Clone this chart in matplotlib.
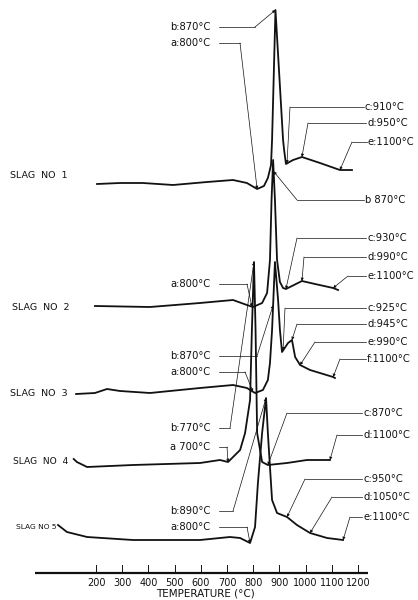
import numpy as np
import matplotlib
matplotlib.use("Agg")
import matplotlib.pyplot as plt

# =========================
# DONNÉES (courbes ATD)
# =========================

# temperature (°C) / signal (unités arbitraires, + = exothermique)
T1 = [204, 292, 379, 494, 624, 723, 776, 815, 841, 856, 868, 872, 885, 914, 918, 925, 952, 986, 1055, 1131, 1177]
S1 = [0, 1, 1, -1, 2, 4, 1, -5, -2, 6, 19, 44, 174, 44, 34, 20, 24, 27, 21, 14, 14]

T2 = [196, 406, 597, 723, 776, 799, 834, 853, 864, 870, 876, 883, 891, 902, 914, 925, 948, 986, 1036, 1105, 1124]
S2 = [1, 0, 4, 7, 2, 0, 4, 14, 47, 107, 147, 107, 47, 25, 19, 18, 21, 26, 23, 19, 17]

T3 = [124, 196, 242, 292, 406, 597, 723, 776, 807, 837, 856, 864, 872, 883, 895, 902, 910, 933, 948, 960, 979, 1017, 1105, 1112]
S3 = [-4, -3, 1, -1, -3, 2, 5, 2, -3, 0, 10, 27, 60, 128, 90, 60, 38, 47, 50, 33, 25, 20, 13, 12]

T4 = [115, 127, 166, 341, 597, 673, 704, 750, 769, 788, 795, 803, 809, 815, 834, 856, 929, 1005, 1093]
S4 = [4, 1, -4, -2, 0, 3, 1, 13, 30, 63, 133, 201, 133, 30, 1, -2, 0, 3, 3]

T5 = [55, 89, 166, 341, 597, 711, 750, 788, 807, 818, 834, 849, 856, 864, 872, 891, 929, 967, 1017, 1082, 1143]
S5 = [13, 6, 1, -2, -2, 1, 0, -5, 11, 55, 105, 140, 105, 71, 38, 25, 21, 13, 5, 0, -2]

COURBES = [(T1, S1), (T2, S2), (T3, S3), (T4, S4), (T5, S5)]
NOMS = ["SLAG  NO  1", "SLAG  NO  2", "SLAG  NO  3", "SLAG  NO  4", "SLAG NO 5"]

TICKS = [200, 300, 400, 500, 600, 700, 800, 900, 1000, 1100, 1200]
XLABEL = "TEMPERATURE (°C)"

# (courbe, temperature visée, texte)
ANNOT_GAUCHE = [
    (0, 885, "b:870°C"), (0, 815, "a:800°C"),
    (1, 795, "a:800°C"),
    (2, 876, "b:870°C"), (2, 799, "a:800°C"),
    (3, 803, "b:770°C"), (3, 704, "a 700°C"),
    (4, 849, "b:890°C"), (4, 788, "a:800°C"),
]
ANNOT_DROITE = [
    (0, 929, "c:910°C"), (0, 986, "d:950°C"), (0, 1131, "e:1100°C"),
    (1, 878, "b 870°C"),
    (1, 925, "c:930°C"), (1, 986, "d:990°C"), (1, 1105, "e:1100°C"),
    (2, 914, "c:925°C"), (2, 948, "d:945°C"), (2, 979, "e:990°C"), (2, 1105, "f:1100°C"),
    (3, 856, "c:870°C"), (3, 1093, "d:1100°C"),
    (4, 929, "c:950°C"), (4, 1017, "d:1050°C"), (4, 1143, "e:1100°C"),
]

# =========================
# MISE EN PAGE (pixels depuis le coin haut-gauche)
# =========================

W, H = 418, 600
PX_200 = 96
PX_PAR_DEG = 0.262
T0 = 200 - PX_200 / PX_PAR_DEG
T1_MAX = 200 + (W - PX_200) / PX_PAR_DEG

BASES = [184, 307, 390, 463, 538]          # ligne de base de chaque courbe
POS_NOMS = [(10, 175), (12, 307), (10, 393), (13, 462), (16, 527)]
TAILLE_NOMS = [6.8, 6.8, 6.8, 6.6, 5.4]

POS_GAUCHE = [(27, 255), (43, 240), (284, 247), (356, 257), (372, 245),
              (428, 230), (447, 227), (511, 233), (527, 247)]
POS_DROITE = [(365, 107, 290), (367, 123, 308), (368, 142, 352),
              (365, 200, 297),
              (367, 238, 297), (367, 257, 304), (367, 276, 348),
              (367, 308, 285), (367, 324, 297), (367, 342, 315), (367, 359, 340),
              (363, 413, 287), (363, 435, 337),
              (363, 479, 305), (363, 497, 332), (363, 517, 350)]

Y_AXE = 573


def tx(px):
    return T0 + px / PX_PAR_DEG


def ty(py):
    return H - py


def cible(i, t):
    temps, sig = COURBES[i]
    return t, ty(BASES[i]) + np.interp(t, temps, sig)


fig = plt.figure(figsize=(W / 100, H / 100), dpi=100)
ax = fig.add_axes([0, 0, 1, 1])
ax.set_xlim(T0, T1_MAX)
ax.set_ylim(0, H)
ax.axis("off")

FONT = "DejaVu Sans"
NOIR = "#111111"

# courbes
for i, (temps, sig) in enumerate(COURBES):
    y = ty(BASES[i]) + np.array(sig)
    ax.plot(temps, y, color=NOIR, lw=1.3, solid_joinstyle="round")

# noms des laitiers
for nom, (x, y), fs in zip(NOMS, POS_NOMS, TAILLE_NOMS):
    ax.text(tx(x), ty(y), nom, fontsize=fs, family=FONT, color=NOIR,
            ha="left", va="center")

fleche = dict(arrowstyle="-|>", lw=0.5, color=NOIR, mutation_scale=4,
              shrinkA=0, shrinkB=0)

# annotations à gauche
for (i, t, txt), (y, xc) in zip(ANNOT_GAUCHE, POS_GAUCHE):
    ax.text(tx(170), ty(y), txt, fontsize=7.2, family=FONT, color=NOIR,
            ha="left", va="center")
    ax.plot([tx(219), tx(xc)], [ty(y), ty(y)], color=NOIR, lw=0.5)
    ax.annotate("", xy=cible(i, t), xytext=(tx(xc), ty(y)), arrowprops=fleche)

# annotations à droite
for (i, t, txt), (xt, y, xc) in zip(ANNOT_DROITE, POS_DROITE):
    ax.text(tx(xt), ty(y), txt, fontsize=7.2, family=FONT, color=NOIR,
            ha="left", va="center")
    ax.plot([tx(xc), tx(xt - 1)], [ty(y), ty(y)], color=NOIR, lw=0.5)
    ax.annotate("", xy=cible(i, t), xytext=(tx(xc), ty(y)), arrowprops=fleche)

# axe des températures
ax.plot([tx(35), tx(368)], [ty(Y_AXE), ty(Y_AXE)], color=NOIR, lw=1.6,
        solid_capstyle="butt")
for t in TICKS:
    ax.plot([t, t], [ty(Y_AXE), ty(Y_AXE - 8)], color=NOIR, lw=0.7)
    ax.text(t, ty(583), str(t), fontsize=7, family=FONT, color=NOIR,
            ha="center", va="center")
ax.text(tx(205), ty(594), XLABEL, fontsize=7.5, family=FONT, color=NOIR,
        ha="center", va="center")

fig.savefig("out.png", dpi=100, facecolor="white")
